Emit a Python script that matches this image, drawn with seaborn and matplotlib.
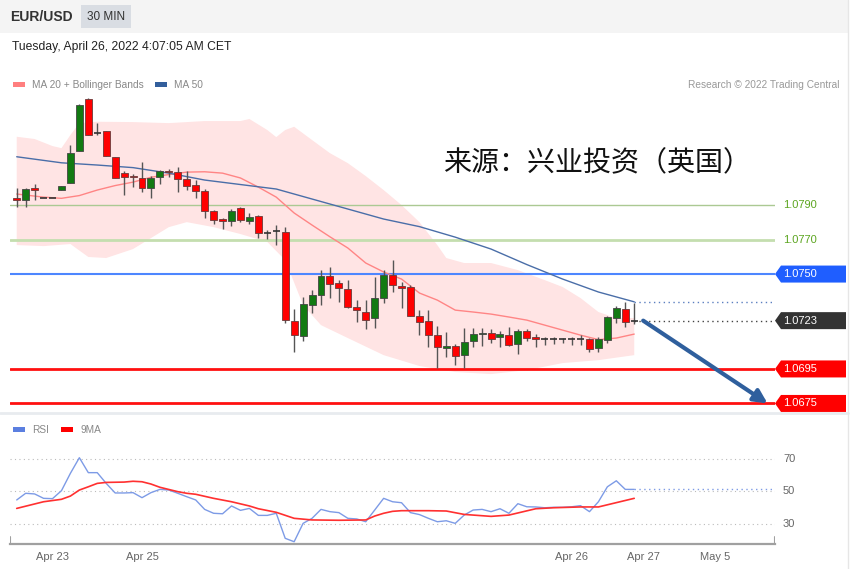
import numpy as np
import seaborn as sns
import matplotlib
matplotlib.use('Agg')
import matplotlib.pyplot as plt
from matplotlib.patches import Rectangle, Polygon
from matplotlib.transforms import blended_transform_factory

# EUR/USD 30 min candles
opens = [1.07941, 1.07929, 1.07996, 1.07939, 1.07939, 1.07987, 1.08026, 1.08215, 1.08515, 1.08318,
         1.08329, 1.08179, 1.08088, 1.08070, 1.08059, 1.08001, 1.08061, 1.08097, 1.08090, 1.08049,
         1.08016, 1.07983, 1.07867, 1.07817, 1.07809, 1.07881, 1.07807, 1.07836, 1.07740, 1.07751,
         1.07745, 1.07229, 1.07140, 1.07320, 1.07378, 1.07488, 1.07446, 1.07413, 1.07310, 1.07281,
         1.07243, 1.07359, 1.07494, 1.07432, 1.07426, 1.07258, 1.07227, 1.07146, 1.07073, 1.07082,
         1.07030, 1.07111, 1.07152, 1.07160, 1.07136, 1.07146, 1.07092, 1.07171, 1.07136, 1.07121,
         1.07121, 1.07121, 1.07121, 1.07125, 1.07123, 1.07069, 1.07117, 1.07247, 1.07295, 1.07229]
highs = [1.07999, 1.07999, 1.08022, 1.07939, 1.07939, 1.08010, 1.08248, 1.08486, 1.08521, 1.08376,
         1.08329, 1.08179, 1.08097, 1.08080, 1.08151, 1.08068, 1.08103, 1.08107, 1.08119, 1.08099,
         1.08045, 1.07991, 1.07871, 1.07823, 1.07877, 1.07887, 1.07852, 1.07842, 1.07755, 1.07784,
         1.07771, 1.07295, 1.07368, 1.07407, 1.07523, 1.07542, 1.07465, 1.07465, 1.07349, 1.07349,
         1.07484, 1.07523, 1.07581, 1.07455, 1.07436, 1.07291, 1.07291, 1.07198, 1.07165, 1.07092,
         1.07185, 1.07185, 1.07185, 1.07181, 1.07171, 1.07191, 1.07179, 1.07179, 1.07152, 1.07136,
         1.07136, 1.07131, 1.07136, 1.07146, 1.07131, 1.07136, 1.07256, 1.07316, 1.07339, 1.07333]
lows = [1.07889, 1.07889, 1.07929, 1.07939, 1.07939, 1.07987, 1.08026, 1.08213, 1.08306, 1.08306,
        1.08186, 1.08057, 1.07958, 1.08005, 1.07977, 1.07939, 1.08022, 1.08061, 1.07977, 1.07987,
        1.07939, 1.07825, 1.07790, 1.07759, 1.07778, 1.07800, 1.07788, 1.07711, 1.07701, 1.07668,
        1.07214, 1.07049, 1.07113, 1.07272, 1.07320, 1.07359, 1.07339, 1.07305, 1.07223, 1.07179,
        1.07185, 1.07330, 1.07397, 1.07301, 1.07256, 1.07146, 1.07078, 1.06953, 1.07020, 1.06972,
        1.06953, 1.07075, 1.07082, 1.07098, 1.07078, 1.07082, 1.07036, 1.07113, 1.07075, 1.07088,
        1.07092, 1.07098, 1.07088, 1.07088, 1.07049, 1.07049, 1.07102, 1.07218, 1.07191, 1.07210]
closes = [1.07929, 1.07993, 1.07990, 1.07939, 1.07939, 1.08010, 1.08202, 1.08480, 1.08306, 1.08318,
          1.08186, 1.08057, 1.08061, 1.08061, 1.08001, 1.08059, 1.08097, 1.08090, 1.08051, 1.08012,
          1.07983, 1.07867, 1.07813, 1.07809, 1.07867, 1.07813, 1.07832, 1.07740, 1.07740, 1.07751,
          1.07233, 1.07146, 1.07326, 1.07378, 1.07488, 1.07442, 1.07417, 1.07307, 1.07291, 1.07233,
          1.07363, 1.07494, 1.07436, 1.07421, 1.07256, 1.07220, 1.07146, 1.07075, 1.07082, 1.07024,
          1.07107, 1.07150, 1.07160, 1.07121, 1.07150, 1.07088, 1.07171, 1.07131, 1.07125, 1.07121,
          1.07121, 1.07121, 1.07121, 1.07125, 1.07065, 1.07123, 1.07249, 1.07305, 1.07223, 1.07229]

# MA 20 / MA 50 / Bollinger bands (candle index, price)
ma20_idx = [0, 3, 5, 7, 9, 11, 13, 15, 17, 19, 21, 23, 25, 27, 29, 31, 33, 35, 37, 39, 41, 43,
            45, 47, 49, 51, 53, 55, 57, 59, 61, 63, 65, 67, 69]
ma20 = [1.07964, 1.07946, 1.07939, 1.07955, 1.07987, 1.08013, 1.08033, 1.08061, 1.08077, 1.08091,
        1.08093, 1.08085, 1.08057, 1.08004, 1.07946, 1.07854, 1.07784, 1.07716, 1.07651, 1.07564,
        1.07512, 1.07471, 1.07390, 1.07349, 1.07291, 1.07280, 1.07268, 1.07251, 1.07233, 1.07204,
        1.07175, 1.07146, 1.07120, 1.07129, 1.07152]
ma50_idx = [0, 5, 9, 13, 17, 21, 25, 29, 33, 37, 41, 45, 49, 53, 57, 61, 65, 69]
ma50 = [1.08180, 1.08145, 1.08132, 1.08117, 1.08085, 1.08045, 1.08019, 1.07993, 1.07935, 1.07877,
        1.07819, 1.07775, 1.07714, 1.07645, 1.07555, 1.07471, 1.07396, 1.07339]
bb_up_idx = [0, 2, 4, 5, 6, 7, 9, 13, 17, 21, 25, 26, 28, 29, 30, 31, 33, 35, 37, 39, 41, 43,
             45, 47, 48, 50, 53, 56, 59, 61, 63, 65, 67, 69]
bb_up = [1.08296, 1.08283, 1.08242, 1.08230, 1.08306, 1.08375, 1.08383, 1.08381, 1.08375, 1.08387,
         1.08387, 1.08399, 1.08335, 1.08294, 1.08335, 1.08354, 1.08277, 1.08201, 1.08143, 1.08068,
         1.07987, 1.07900, 1.07801, 1.07668, 1.07593, 1.07564, 1.07564, 1.07523, 1.07465, 1.07425,
         1.07361, 1.07280, 1.07245, 1.07245]
bb_lo_idx = [0, 3, 6, 8, 10, 13, 17, 19, 22, 25, 28, 30, 32, 34, 37, 41, 45, 49, 53, 57, 61, 65, 69]
bb_lo = [1.07668, 1.07662, 1.07674, 1.07599, 1.07593, 1.07645, 1.07772, 1.07801, 1.07772, 1.07732,
         1.07686, 1.07581, 1.07320, 1.07204, 1.07129, 1.07030, 1.06967, 1.06932, 1.06920, 1.06943,
         1.06984, 1.07001, 1.07030]

resistances = [1.0790, 1.0770]
pivot = 1.0750
last_price = 1.0723
supports = [1.0695, 1.0675]

# RSI panel
rsi = [44.5, 48.6, 48.2, 45.5, 45.3, 50.2, 60.9, 70.5, 61.3, 61.3,
       54.7, 48.8, 48.8, 49.0, 45.9, 49.0, 51.0, 50.6, 48.6, 46.5,
       44.5, 38.7, 36.3, 36.0, 40.8, 38.1, 39.3, 35.0, 35.0, 36.3,
       20.9, 18.8, 30.1, 33.2, 38.7, 37.3, 36.7, 33.2, 32.8, 31.1,
       38.3, 45.5, 43.4, 42.8, 36.7, 35.5, 33.2, 31.1, 31.7, 30.1,
       35.2, 38.3, 38.7, 37.3, 39.1, 36.3, 42.2, 40.3, 40.2, 39.7,
       40.0, 40.0, 40.3, 41.0, 37.3, 43.4, 52.6, 56.3, 51.0, 51.0]
rsi_ma_idx = [0, 3, 5, 6, 7, 8, 9, 10, 12, 13, 14, 15, 16, 18, 19, 20, 22, 24, 26, 27, 29, 31,
              33, 36, 39, 40, 41, 42, 43, 46, 48, 50, 53, 55, 58, 60, 63, 65, 69]
rsi_ma = [39.3, 43.4, 44.9, 46.9, 50.6, 52.6, 54.7, 55.3, 55.5, 56.0, 55.7, 54.3, 52.3, 49.6, 48.6,
          48.0, 45.5, 43.4, 40.8, 39.1, 36.9, 33.2, 32.2, 32.0, 32.2, 34.6, 36.3, 37.5, 37.9, 37.9,
          37.7, 35.6, 34.4, 35.2, 39.1, 39.7, 40.2, 40.2, 45.5]
rsi_levels = [70, 50, 30]

xtick_pos = [4, 14, 62, 70, 78]
xtick_labels = ['Apr 23', 'Apr 25', 'Apr 26', 'Apr 27', 'May 5']

sns.set_theme(style='white')
plt.rcParams['font.family'] = ['Liberation Sans', 'DejaVu Sans']

W, H = 862, 569
fig = plt.figure(figsize=(W / 100, H / 100), dpi=100)

# background / decoration layer in pixel coords
bg = fig.add_axes([0, 0, 1, 1])
bg.set_xlim(0, W)
bg.set_ylim(H, 0)
bg.axis('off')
bg.add_patch(Rectangle((0, 0), 848, 33, color='#f4f4f4', lw=0))
bg.add_patch(Rectangle((81, 5), 50, 23, color='#d9dde3', lw=0))
bg.text(10, 17, 'EUR/USD', fontsize=10, fontweight='bold', color='#333333', va='center')
bg.text(106, 17, '30 MIN', fontsize=8.5, color='#333333', ha='center', va='center')
bg.text(12, 47, 'Tuesday, April 26, 2022 4:07:05 AM CET', fontsize=8.7, color='#222222', va='center')
bg.add_patch(Rectangle((13, 82), 12, 4.5, color='#ff7f7f', lw=0))
bg.text(32, 84.5, 'MA 20 + Bollinger Bands', fontsize=7.3, color='#888888', va='center')
bg.add_patch(Rectangle((155, 82), 12, 4.5, color='#335f9c', lw=0))
bg.text(174, 84.5, 'MA 50', fontsize=7.3, color='#888888', va='center')
bg.text(840, 84.5, 'Research © 2022 Trading Central', fontsize=7.3, color='#999999', ha='right', va='center')
bg.plot([0, 848], [413, 413], color='#e8ebef', lw=2)
bg.plot([848, 848], [0, H], color='#e6e6e6', lw=1)
bg.add_patch(Rectangle((13, 427), 12, 4.5, color='#5b7fe0', lw=0))
bg.text(32, 429.5, 'RSI', fontsize=7.3, color='#888888', va='center')
bg.add_patch(Rectangle((61, 427), 12, 4.5, color='#ff0000', lw=0))
bg.text(81, 429.5, '9MA', fontsize=7.3, color='#888888', va='center')
bg.text(443, 162, '来源：兴业投资（英国）', fontsize=20.2, color='#111111', va='center',
        family=['Noto Sans CJK SC', 'DejaVu Sans'])

xlim = (-0.75, 84.73)

# price panel
ax = fig.add_axes([10 / W, 1 - 410 / H, 765 / W, 315 / H])
ax.set_xlim(*xlim)
ax.set_ylim(1.06712, 1.08538)
ax.axis('off')
ax.patch.set_alpha(0)

ax.fill(np.r_[bb_up_idx, bb_lo_idx[::-1]], np.r_[bb_up, bb_lo[::-1]], color='#ffe4e4', lw=0, zorder=1)
sns.lineplot(x=ma20_idx, y=ma20, ax=ax, color='#ff8585', lw=1, zorder=2)
sns.lineplot(x=ma50_idx, y=ma50, ax=ax, color='#4a6ea8', lw=1, zorder=2)

ax.axhline(resistances[0], color='#abc993', lw=1, zorder=1.5)
ax.axhline(resistances[1], color='#c4deaf', lw=2, zorder=1.5)
ax.axhline(pivot, color='#4d86ff', lw=1.5, zorder=1.5)
for s in supports:
    ax.axhline(s, color='#ff1010', lw=2, zorder=1.5)

n = len(opens)
idx = np.arange(n)
o = np.array(opens)
c = np.array(closes)
ax.vlines(idx, lows, highs, color='#555555', lw=1, zorder=3)
doji = np.isclose(o, c)
up = (c > o) & ~doji
dn = (c < o) & ~doji
ax.bar(idx[up], (c - o)[up], bottom=o[up], width=0.78, color='#127a12', edgecolor='#444444', lw=0.6, zorder=4)
ax.bar(idx[dn], (c - o)[dn], bottom=o[dn], width=0.78, color='#ff0000', edgecolor='#6a3a3a', lw=0.6, zorder=4)
ax.hlines(c[doji], idx[doji] - 0.39, idx[doji] + 0.39, color='#333333', lw=1.2, zorder=4)

# dotted extensions from the last candle
ax.hlines(ma50[-1], n - 1, xlim[1], colors='#5b7fc0', lw=1, linestyles=(0, (1, 2.5)), zorder=2)
ax.hlines(last_price, n - 1, xlim[1], colors='#444444', lw=1, linestyles=(0, (1, 2.5)), zorder=2)

# forecast arrow
ax.annotate('', xy=(83.9, supports[1]), xytext=(70, last_price),
            arrowprops=dict(arrowstyle='-|>', color='#2f5f9d', lw=3, mutation_scale=20,
                            shrinkA=0, shrinkB=0),
            annotation_clip=False, zorder=5)

# right-hand price labels
tr = blended_transform_factory(ax.transAxes, ax.transData)
px = 1 / 765
hh = 8.5 * (1.08538 - 1.06712) / 315
for lv in resistances:
    ax.text(1 + 8 * px, lv, f'{lv:.4f}', transform=tr, fontsize=8, color='#5ca520', va='center', clip_on=False)
for lv, fc in [(pivot, '#1f5eff'), (last_price, '#333333'), (supports[0], '#ff0000'), (supports[1], '#ff0000')]:
    ax.add_patch(Polygon([(1, lv), (1 + 6 * px, lv + hh), (1 + 71 * px, lv + hh),
                          (1 + 71 * px, lv - hh), (1 + 6 * px, lv - hh)],
                         closed=True, transform=tr, color=fc, lw=0, clip_on=False, zorder=6))
    ax.text(1 + 8 * px, lv, f'{lv:.4f}', transform=tr, fontsize=8, color='white', va='center',
            clip_on=False, zorder=7)

# RSI panel
ax2 = fig.add_axes([10 / W, 1 - 544 / H, 765 / W, 124 / H])
ax2.set_xlim(*xlim)
ax2.set_ylim(17.4, 93.7)
ax2.patch.set_alpha(0)
for sp in ['top', 'left', 'right']:
    ax2.spines[sp].set_visible(False)
ax2.spines['bottom'].set_color('#a0a0a0')
ax2.spines['bottom'].set_linewidth(1.6)
for lv in rsi_levels:
    ax2.axhline(lv, color='#bbbbbb', lw=0.8, ls=(0, (1, 3)))
    ax2.text(1 + 8 * px, lv, str(lv), transform=blended_transform_factory(ax2.transAxes, ax2.transData),
             fontsize=8, color='#666666', va='center', clip_on=False)
sns.lineplot(x=idx, y=rsi, ax=ax2, color='#7d9be6', lw=1)
sns.lineplot(x=rsi_ma_idx, y=rsi_ma, ax=ax2, color='#ff3030', lw=1.2)
ax2.hlines(rsi[-1], n - 1, xlim[1], colors='#7d9be6', lw=1, linestyles=(0, (1, 2.5)))
ax2.axvline(xlim[0], ymax=0.06, color='#a0a0a0', lw=1.5)
ax2.axvline(xlim[1], ymax=0.06, color='#a0a0a0', lw=1.5)
ax2.set_yticks([])
ax2.set_xticks(xtick_pos, xtick_labels)
ax2.tick_params(axis='x', length=0, labelsize=8, labelcolor='#666666', pad=6)
ax2.set_xlabel('')
ax2.set_ylabel('')

fig.savefig('out.png', dpi=100)
